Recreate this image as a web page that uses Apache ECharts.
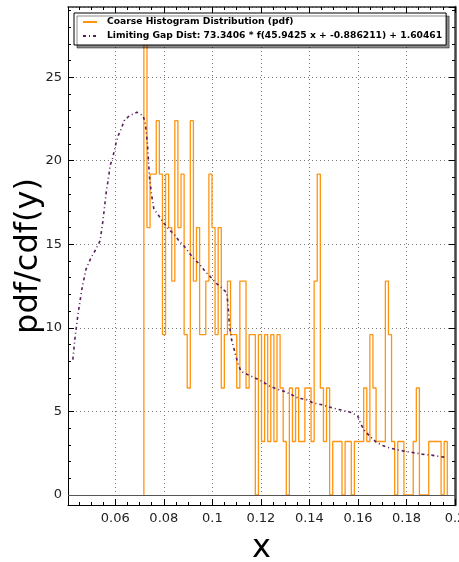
<!DOCTYPE html>
<html><head><meta charset="utf-8">
<script src="https://cdn.jsdelivr.net/npm/echarts@6/dist/echarts.min.js"></script>
<style>html,body{margin:0;padding:0;background:#fff}#c{width:459px;height:562px}</style>
</head><body><div id="c"></div>
<script>
// ---- data ----
const histStart = 0.07177;      // left edge of first bin
const histBinWidth = 0.001276;  // bin width
const histValues = [
 28.8,16,19.2,19.2,22.4,19.2,9.6,19.2,16,12.8,
 22.4,16,19.2,9.6,6.4,22.4,12.8,16,9.6,9.6,
 12.8,19.2,16,9.6,16,6.4,9.6,12.8,9.6,9.6,
 6.4,12.8,12.8,6.4,9.6,9.6,0,9.6,3.2,9.6,
 3.2,9.6,3.2,9.6,6.4,3.2,0,6.4,3.2,6.4,
 3.2,3.2,6.4,6.4,3.2,12.8,19.2,6.4,3.2,6.4,
 0,3.2,3.2,3.2,0,3.2,3.2,0,3.2,3.2,
 3.2,6.4,3.2,9.6,6.4,3.2,3.2,3.2,12.8,9.6,
 3.2,0,3.2,3.2,0,0,0,3.2,6.4,0,
 0,0,3.2,3.2,3.2,3.2,0,3.2];
const curveX = [0.0425,0.0433,0.0446,0.0462,0.0479,0.0500,0.0520,0.0537,0.0549,0.0564,
 0.0569,0.0574,0.0578,0.0588,0.0602,0.0612,0.0624,0.0637,0.0658,0.0689,
 0.0714,0.0723,0.0727,0.0733,0.0737,0.0741,0.0749,0.0759,0.0780,0.0798,
 0.0821,0.0842,0.0863,0.0883,0.0904,0.0926,0.0948,0.0969,0.0989,0.1013,
 0.1038,0.1059,0.1063,0.1066,0.1070,0.1079,0.1089,0.1097,0.1107,0.1118,
 0.1146,0.1176,0.1205,0.1237,0.1265,0.1296,0.1327,0.1354,0.1389,0.1416,
 0.1452,0.1482,0.1514,0.1545,0.1575,0.1600,0.1611,0.1627,0.1650,0.1675,
 0.1702,0.1733,0.1764,0.1799,0.1826,0.1864,0.1895,0.1930,0.1962];
const curveY = [8.1,9.3,10.8,12.3,13.5,14.2,14.7,15.2,16.4,18.3,
 18.7,19.2,19.7,20.1,21.0,21.5,21.9,22.4,22.7,22.9,
 22.7,22.3,21.8,20.9,19.9,19.0,18.0,17.1,16.7,16.3,
 15.9,15.6,15.2,14.9,14.5,14.1,13.8,13.4,13.1,12.7,
 12.4,12.1,11.6,11.1,10.2,9.3,8.75,8.3,7.8,7.4,
 7.2,7.0,6.8,6.5,6.35,6.2,6.0,5.8,5.7,5.5,
 5.4,5.26,5.14,5.04,4.93,4.7,4.26,3.85,3.5,3.16,
 2.96,2.8,2.7,2.6,2.54,2.44,2.4,2.32,2.25];
const xMinorTicks = [0.045,0.05,0.055,0.06,0.065,0.07,0.075,0.08,0.085,0.09,0.095,0.1,0.105,0.11,0.115,0.12,0.125,0.13,0.135,0.14,0.145,0.15,0.155,0.16,0.165,0.17,0.175,0.18,0.185,0.19,0.195];
const yMinorTicks = [0,1,2,3,4,5,6,7,8,9,10,11,12,13,14,15,16,17,18,19,20,21,22,23,24,25,26,27,28,29];
const histName = 'Coarse Histogram Distribution (pdf)';
const curveName = 'Limiting Gap Dist: 73.3406 * f(45.9425 x + -0.886211) + 1.60461';
const xRange = [0.0405, 0.2];
const yRange = [-0.6, 29.2];

// ---- build ----
const histPts = [[histStart, 0]];
histValues.forEach((v, k) => {
  const l = histStart + k * histBinWidth;
  histPts.push([l, v], [l + histBinWidth, v]);
});
histPts.push([histStart + histValues.length * histBinWidth, 0]);
const curvePts = curveX.map((x, i) => [x, curveY[i]]);

const FF = 'DejaVu Sans';
function minorAxis(pos, ticks, range) {
  return {type:'value', position:pos, min:range[0], max:range[1],
    axisLine:{show:false, onZero:false}, axisLabel:{show:false}, splitLine:{show:false},
    axisTick:{show:true, inside:true, length:3, customValues:ticks, lineStyle:{color:'#000', width:1}}};
}
const chart = echarts.init(document.getElementById('c'), null, {renderer:'canvas'});
chart.setOption({
  animation:false,
  backgroundColor:'#fff',
  grid:{left:68, right:4, top:7, bottom:57, show:false, containLabel:false, outerBoundsMode:'none'},
  legend:{
    orient:'vertical', left:74, top:13, padding:[3,4,3,8], itemGap:2,
    itemWidth:14, itemHeight:8,
    backgroundColor:'#fff', borderColor:'#000', borderWidth:1, borderRadius:0,
    shadowColor:'rgba(0,0,0,0.45)', shadowBlur:0, shadowOffsetX:3, shadowOffsetY:3,
    itemStyle:{opacity:0},
    textStyle:{fontFamily:FF, fontWeight:'bold', fontSize:9.2, lineHeight:12, color:'#000', padding:[0,0,0,5]},
    data:[histName, curveName]
  },
  xAxis:[
    {type:'value', position:'bottom', min:xRange[0], max:xRange[1], minInterval:0.02, maxInterval:0.02,
     axisLine:{show:true, onZero:false, lineStyle:{color:'#000', width:1}},
     axisTick:{show:true, inside:true, length:6, lineStyle:{color:'#000'}},
     axisLabel:{show:true, showMinLabel:false, margin:7, fontFamily:FF, fontSize:13, color:'#222'},
     splitLine:{show:true, lineStyle:{color:'#777', type:[1,3], width:1}},
     name:'x', nameLocation:'middle', nameGap:28, nameMoveOverlap:false,
     nameTextStyle:{fontFamily:FF, fontSize:32, color:'#000'}},
    {type:'value', position:'top', min:xRange[0], max:xRange[1], minInterval:0.02, maxInterval:0.02,
     axisLine:{show:true, onZero:false, lineStyle:{color:'#333', width:1.5}},
     axisTick:{show:true, inside:true, length:6, lineStyle:{color:'#000'}},
     axisLabel:{show:false}, splitLine:{show:false}},
    minorAxis('bottom', xMinorTicks, xRange),
    minorAxis('top', xMinorTicks, xRange)
  ],
  yAxis:[
    {type:'value', position:'left', min:yRange[0], max:yRange[1], minInterval:5, maxInterval:5,
     axisLine:{show:true, onZero:false, lineStyle:{color:'#000', width:1}},
     axisTick:{show:true, inside:true, length:6, lineStyle:{color:'#000'}},
     axisLabel:{show:true, showMinLabel:false, showMaxLabel:false, margin:6, fontFamily:FF, fontSize:13, color:'#222'},
     splitLine:{show:true, lineStyle:{color:'#777', type:[1,3], width:1}},
     name:'pdf/cdf(y)', nameLocation:'middle', nameGap:23, nameMoveOverlap:false,
     nameTextStyle:{fontFamily:FF, fontSize:32, color:'#000'}},
    {type:'value', position:'right', min:yRange[0], max:yRange[1], minInterval:5, maxInterval:5,
     axisLine:{show:true, onZero:false, lineStyle:{color:'#444', width:2.5}},
     axisTick:{show:true, inside:true, length:6, lineStyle:{color:'#000'}},
     axisLabel:{show:false}, splitLine:{show:false}},
    minorAxis('left', yMinorTicks, yRange),
    minorAxis('right', yMinorTicks, yRange)
  ],
  series:[
    {type:'line', name:histName, data:histPts, xAxisIndex:0, yAxisIndex:0,
     symbol:'none', color:'#ff9410', lineStyle:{color:'#ff9410', width:1.3}, z:2,
     markLine:{silent:true, symbol:'none', label:{show:false},
       lineStyle:{color:'#555', type:'solid', width:1.2}, data:[{yAxis:0}]}},
    {type:'line', name:curveName, data:curvePts, xAxisIndex:0, yAxisIndex:0,
     symbol:'none', color:'#5a1d5c', lineStyle:{color:'#5a1d5c', width:1.6, type:[3,3,1,3]}, z:3}
  ]
});
</script></body></html>
